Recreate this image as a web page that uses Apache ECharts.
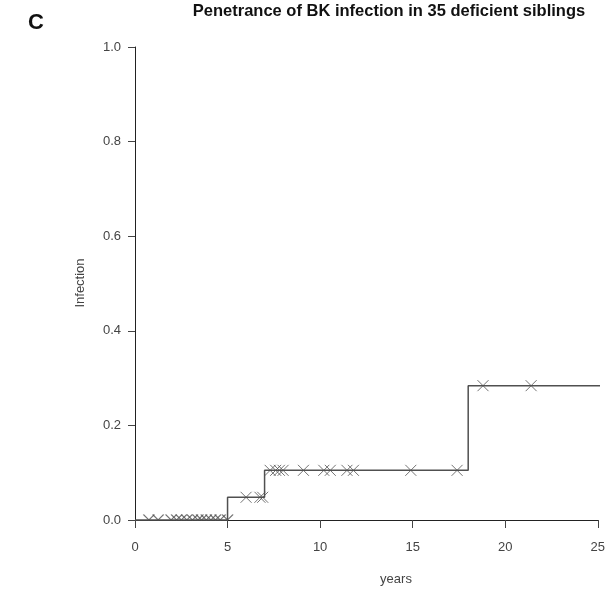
<!DOCTYPE html>
<html>
<head>
<meta charset="utf-8">
<script src="https://cdn.jsdelivr.net/npm/echarts@6/dist/echarts.min.js"></script>
<style>
  html, body { margin: 0; padding: 0; background: #fff; }
  #chart { width: 608px; height: 592px; }
</style>
</head>
<body>
<div id="chart"></div>
<script>
  // step curve (cumulative infection), runs on past the last tick to the edge
  var stepYears = [0, 5, 7, 18, 25.5];
  var stepLevels = [0, 0.048, 0.105, 0.284, 0.284];

  // censored siblings (x marks), grouped by level
  var censoredAt0 = [0.75, 1.25, 1.95, 2.25, 2.5, 2.8, 3.1, 3.4, 3.6, 3.85, 4.1, 4.35, 4.6, 5.0];
  var censoredAt1 = [6.0, 6.75, 6.9];
  var censoredAt2 = [7.3, 7.6, 7.8, 8.0, 9.1, 10.2, 10.55, 11.45, 11.8, 14.9, 17.4];
  var censoredAt3 = [18.8, 21.4];

  var yTicks = ['0.0', '0.2', '0.4', '0.6', '0.8', '1.0'];
  var xTicks = ['0', '5', '10', '15', '20', '25'];

  var stepData = stepYears.map(function (x, i) { return [x, stepLevels[i]]; });
  // marks on the baseline are cut by the plot edge, only their top half shows
  var baseMarks = censoredAt0.map(function (x) { return [x, stepLevels[0]]; });
  var marks = [];
  censoredAt1.forEach(function (x) { marks.push([x, stepLevels[1]]); });
  censoredAt2.forEach(function (x) { marks.push([x, stepLevels[2]]); });
  censoredAt3.forEach(function (x) { marks.push([x, stepLevels[3]]); });

  var font = '"Liberation Sans", Arial, sans-serif';
  var markColor = '#505050';
  var chart = echarts.init(document.getElementById('chart'));

  chart.setOption({
    backgroundColor: '#fff',
    animation: false,
    grid: { left: 135, right: 9, top: 47, bottom: 72 },
    xAxis: {
      type: 'value',
      min: 0,
      max: 25,
      interval: 5,
      axisLine: { lineStyle: { color: '#222', width: 1 } },
      axisTick: { show: true, length: 8, lineStyle: { color: '#444' } },
      axisLabel: {
        margin: 21, fontSize: 13, color: '#444', fontFamily: font,
        formatter: function (v) { return xTicks[v / 5]; }
      },
      splitLine: { show: false }
    },
    yAxis: {
      type: 'value',
      min: 0,
      max: 1,
      interval: 0.2,
      axisLine: { show: true, lineStyle: { color: '#222', width: 1 } },
      axisTick: { show: true, length: 7, lineStyle: { color: '#444' } },
      axisLabel: {
        margin: 14, fontSize: 13, color: '#444', fontFamily: font,
        formatter: function (v) { return yTicks[Math.round(v / 0.2)]; }
      },
      splitLine: { show: false }
    },
    graphic: [
      { type: 'text', left: 28, top: 12,
        style: { text: 'C', font: 'bold 22px ' + font, fill: '#111' } },
      { type: 'text', x: 389, y: 11,
        style: { text: 'Penetrance of BK infection in 35 deficient siblings',
          font: 'bold 16.5px ' + font, fill: '#111', textAlign: 'center', textVerticalAlign: 'middle' } },
      { type: 'text', x: 396, y: 579,
        style: { text: 'years', font: '13px ' + font, fill: '#444',
          textAlign: 'center', textVerticalAlign: 'middle' } },
      { type: 'text', x: 80, y: 283, rotation: Math.PI / 2,
        style: { text: 'Infection', font: '13px ' + font, fill: '#444',
          textAlign: 'center', textVerticalAlign: 'middle' } }
    ],
    series: [
      {
        type: 'line',
        step: 'end',
        data: stepData,
        showSymbol: false,
        clip: false,
        lineStyle: { color: markColor, width: 1.5 },
        z: 2
      },
      {
        type: 'scatter',
        data: marks,
        symbol: 'path://M0,0L10,10M10,0L0,10',
        symbolSize: 11,
        itemStyle: { color: 'transparent', borderColor: markColor, borderWidth: 1 },
        z: 3
      },
      {
        type: 'scatter',
        data: baseMarks,
        symbol: 'path://M0,0L5,5L10,0',
        symbolSize: [11, 5.5],
        symbolOffset: [0, -2.75],
        itemStyle: { color: 'transparent', borderColor: markColor, borderWidth: 1 },
        z: 3
      }
    ]
  });
</script>
</body>
</html>
